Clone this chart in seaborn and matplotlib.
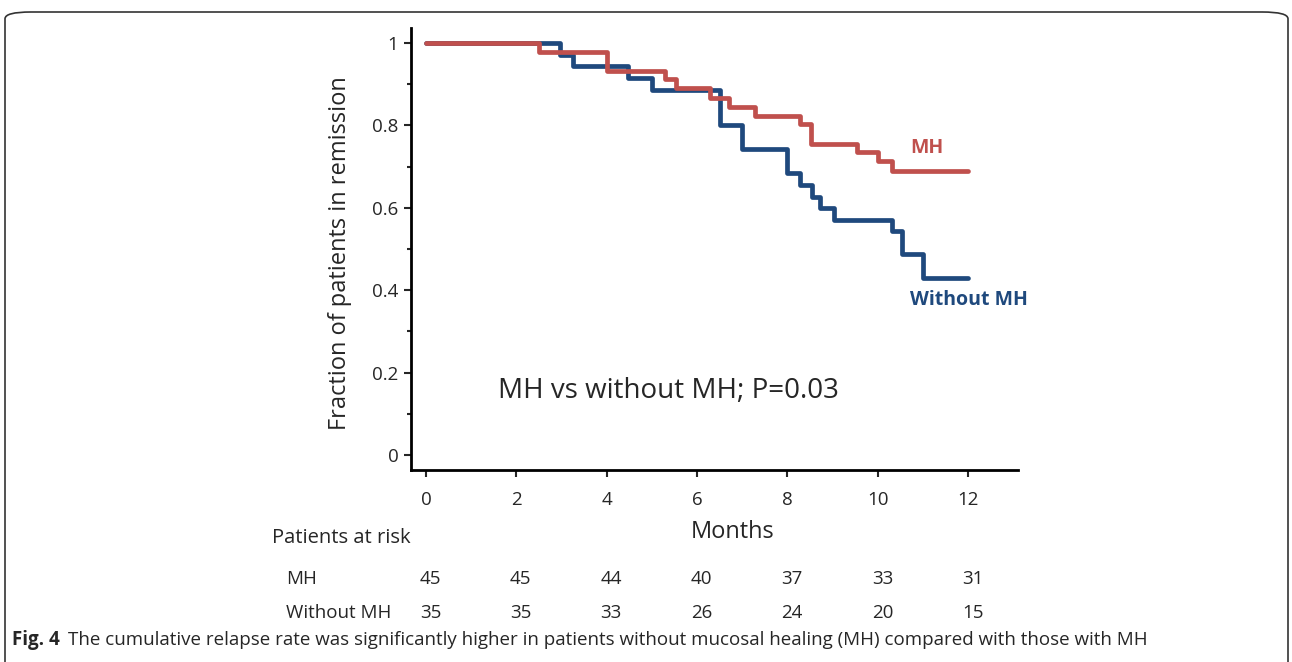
import numpy as np
import matplotlib
matplotlib.use("Agg")
import matplotlib.pyplot as plt
from matplotlib.patches import FancyBboxPatch
import matplotlib.transforms as mtransforms
import seaborn as sns
import pandas as pd

# Kaplan-Meier steps
mh_time = [0, 2.5, 4.0, 5.29, 5.53, 6.29, 6.71, 7.28, 8.28, 8.52, 9.54, 10.0, 10.32, 12]
mh_surv = [1.0, 0.978, 0.932, 0.912, 0.89, 0.866, 0.845, 0.822, 0.803, 0.755, 0.735, 0.713, 0.689, 0.689]

wo_time = [0, 2.97, 3.26, 4.47, 5.0, 6.51, 7.0, 7.99, 8.28, 8.55, 8.72, 9.03, 10.32, 10.54, 11.0, 12]
wo_surv = [1.0, 0.971, 0.943, 0.914, 0.886, 0.80, 0.743, 0.684, 0.655, 0.626, 0.60, 0.570, 0.544, 0.488, 0.43, 0.43]

# patients at risk table
risk_months = [0, 2, 4, 6, 8, 10, 12]
risk_mh = [45, 45, 44, 40, 37, 33, 31]
risk_wo = [35, 35, 33, 26, 24, 20, 15]

y_ticks = [0, 0.2, 0.4, 0.6, 0.8, 1]
y_ticklabels = ["0", "0.2", "0.4", "0.6", "0.8", "1"]

RED = "#C0504D"
BLUE = "#1F497D"

sns.set_style("ticks")
plt.rcParams["font.family"] = ["Open Sans", "DejaVu Sans"]

df = pd.concat([
    pd.DataFrame({"Months": wo_time, "surv": wo_surv, "group": "Without MH"}),
    pd.DataFrame({"Months": mh_time, "surv": mh_surv, "group": "MH"}),
])

fig = plt.figure(figsize=(12.92, 6.62), dpi=100)
ax = fig.add_axes([411 / 1292, 1 - 470 / 662, (1018 - 411) / 1292, (470 - 28) / 662])

sns.lineplot(data=df, x="Months", y="surv", hue="group",
             palette={"Without MH": BLUE, "MH": RED},
             estimator=None, sort=False, drawstyle="steps-post",
             linewidth=3.4, legend=False, ax=ax)

ax.set_xlim(-0.33, 13.1)
ax.set_ylim(-0.036, 1.036)
ax.set_xticks(risk_months)
ax.set_yticks(y_ticks)
ax.set_yticklabels(y_ticklabels)
ax.set_yticks([0.1, 0.3, 0.5, 0.7, 0.9], minor=True)
ax.tick_params(axis="y", which="major", length=5, width=1.5, labelsize=13.5, pad=4)
ax.tick_params(axis="y", which="minor", length=3, width=1.5)
ax.tick_params(axis="x", length=5, width=1.5, labelsize=13.5, pad=10)
sns.despine(ax=ax)
for s in ["left", "bottom"]:
    ax.spines[s].set_linewidth(2)
    ax.spines[s].set_color("black")

ax.set_ylabel("Fraction of patients in remission", fontsize=17)
ax.set_xlabel("Months", fontsize=17)
ax.yaxis.set_label_coords(-0.097, 0.491)
ax.xaxis.set_label_coords(0.530, -0.112)

ax.text(10.71, 0.745, "MH", color=RED, fontsize=14, fontweight="bold", va="center", ha="left")
ax.text(10.71, 0.376, "Without MH", color=BLUE, fontsize=14, fontweight="bold", va="center", ha="left")
ax.text(5.36, 0.155, "MH vs without MH; P=0.03", fontsize=20, va="center", ha="center")

# at-risk table below the axis
trans = mtransforms.blended_transform_factory(ax.transData, fig.transFigure)
fig.text(272 / 1292, 1 - 538 / 662, "Patients at risk", fontsize=14.5, va="center", ha="left")
fig.text(286 / 1292, 1 - 579 / 662, "MH", fontsize=13.5, va="center", ha="left")
fig.text(286 / 1292, 1 - 613 / 662, "Without MH", fontsize=13.5, va="center", ha="left")
for m, a, b in zip(risk_months, risk_mh, risk_wo):
    ax.text(m + 0.1, 1 - 579 / 662, str(a), transform=trans, fontsize=13.5, va="center", ha="center", clip_on=False)
    ax.text(m + 0.1, 1 - 613 / 662, str(b), transform=trans, fontsize=13.5, va="center", ha="center", clip_on=False)

# caption
fig.text(12 / 1292, 1 - 640 / 662, "Fig. 4", fontsize=13.5, fontweight="bold", va="center", ha="left")
fig.text(68 / 1292, 1 - 640 / 662,
         "The cumulative relapse rate was significantly higher in patients without mucosal healing (MH) compared with those with MH",
         fontsize=13.5, va="center", ha="left")

# rounded frame around the figure panel
frame = FancyBboxPatch((5 / 1292, -0.1), 1283 / 1292, 1.1 - 12 / 662,
                       boxstyle="round,pad=0,rounding_size=0.02",
                       transform=fig.transFigure, facecolor="none",
                       edgecolor="#333333", linewidth=1.2, mutation_aspect=662 / 1292)
fig.patches.append(frame)

fig.savefig("out.png", dpi=100)
